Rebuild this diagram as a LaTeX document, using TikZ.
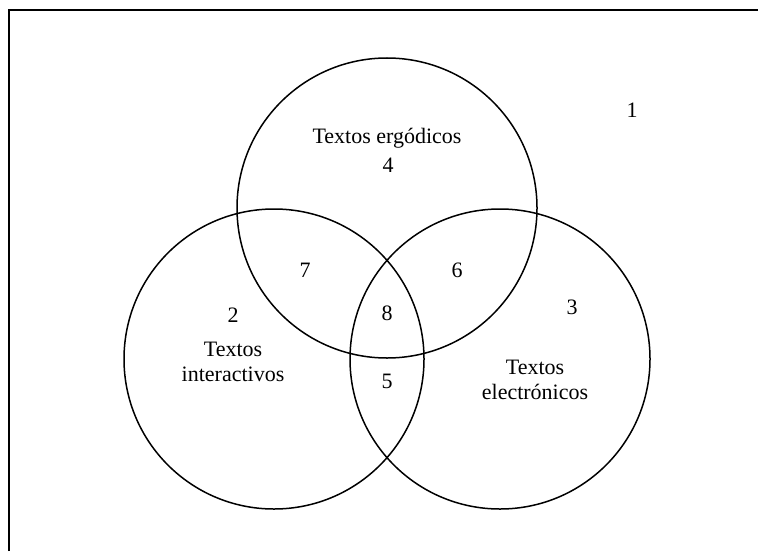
\documentclass[tikz,border=0pt]{standalone}
\usepackage{fontspec}
\setmainfont{Liberation Serif}
\begin{document}
\begin{tikzpicture}[x=0.5pt, y=-0.5pt, font=\fontsize{11}{12.5}\selectfont]
            \useasboundingbox (0, 0) rectangle (758, 551);
            \draw[line width=1pt] (9, 551) -- (9, 10) -- (758, 10);
            \draw[line width=0.75pt] (387, 208) circle[radius=150];
            \draw[line width=0.75pt] (274, 359) circle[radius=150];
            \draw[line width=0.75pt] (500, 359) circle[radius=150];
            \node (ergo) at (387, 138) {Textos ergódicos};
            \node (inter) at (233, 362) [align=center] {Textos\\interactivos};
            \node (elec) at (535, 380) [align=center] {Textos\\electrónicos};
            \node (r1) at (632, 110) {1};
            \node (r2) at (233, 315) {2};
            \node (r3) at (572, 307) {3};
            \node (r4) at (388, 165) {4};
            \node (r5) at (387, 381) {5};
            \node (r6) at (457, 270) {6};
            \node (r7) at (305, 270) {7};
            \node (r8) at (387, 313) {8};
        \end{tikzpicture}
\end{document}
